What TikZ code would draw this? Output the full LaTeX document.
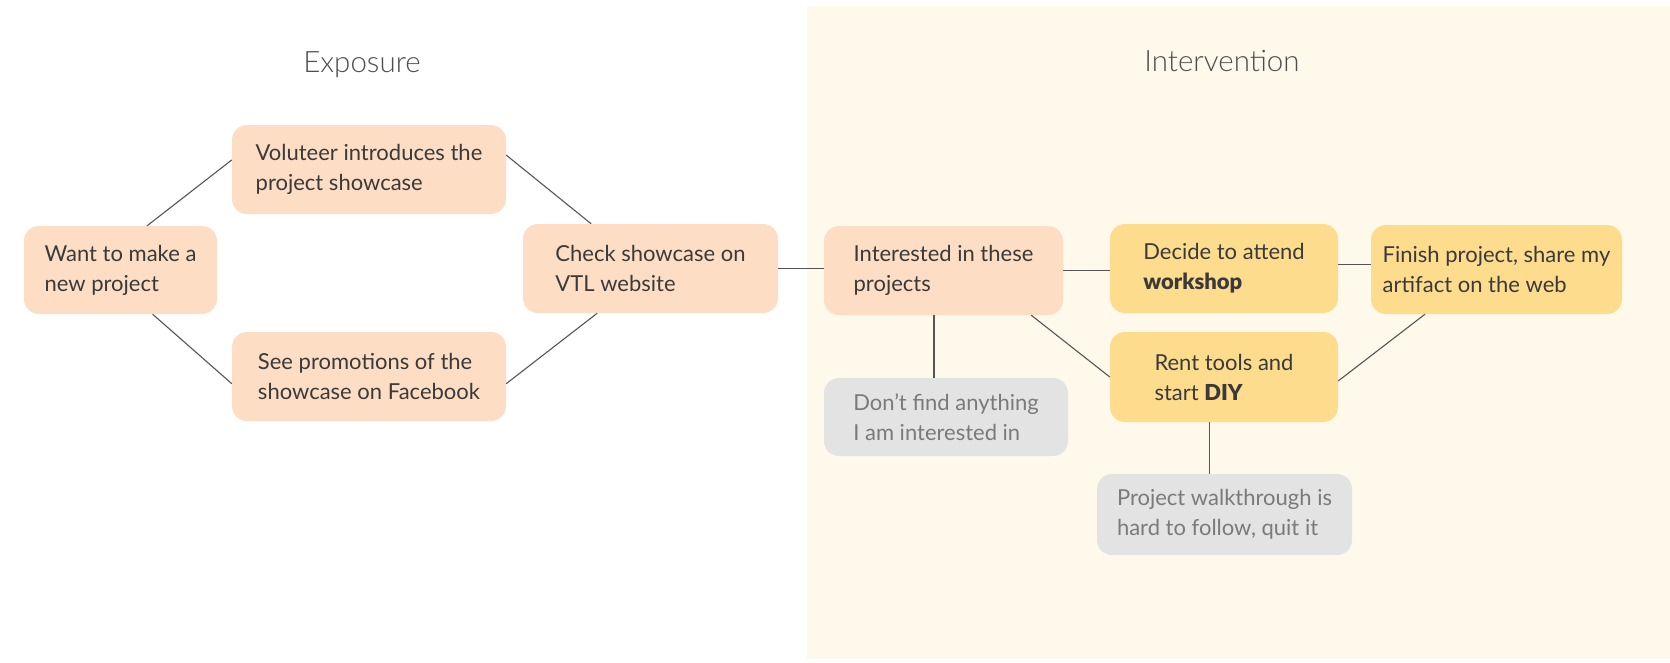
\documentclass[tikz,border=0pt]{standalone}
\usepackage{fontspec}
\setmainfont{Lato}
\newfontfamily\lightfont{Lato Light}
\newfontfamily\heavyfont{Lato Black}
\newcommand{\heavy}[1]{{\heavyfont #1}}
\definecolor{peach}{HTML}{FDDEC4}
\definecolor{yel}{HTML}{FEDC8E}
\definecolor{greybox}{HTML}{E3E3E3}
\definecolor{panelcol}{HTML}{FFF9EC}
\definecolor{ink}{HTML}{3A3A3A}
\definecolor{greyink}{HTML}{7A7A7A}
\definecolor{wirecol}{HTML}{555555}
\begin{document}
\begin{tikzpicture}[x=1pt,y=-1pt,
  card/.style={rounded corners=15pt, inner sep=0pt, align=left,
    font=\fontsize{22}{30}\selectfont, text=ink},
  peachcard/.style={card, fill=peach},
  yelcard/.style={card, fill=yel},
  greycard/.style={card, fill=greybox, text=greyink},
  title/.style={font=\lightfont\fontsize{29.5}{34}\selectfont, text=ink!90, anchor=base},
  wire/.style={draw=wirecol, line width=1.1pt}]
\useasboundingbox[fill=white] (0,0) rectangle (1670,662);
\fill[panelcol] (807,6) rectangle (1670,659);

\node[title] (t1) at (362,72) {Exposure};
\node[title] (t2) at (1222,71) {Intervention};

\node[peachcard, minimum width=193pt, minimum height=88pt] (A) at (120.5,270) {Want to make a\\new project};
\node[peachcard, minimum width=274pt, minimum height=89pt] (B) at (369,169.5) {Voluteer introduces the\\project showcase};
\node[peachcard, minimum width=274pt, minimum height=89pt] (C) at (369,376.5) {See promotions of the\\showcase on Facebook};
\node[peachcard, minimum width=255pt, minimum height=89pt] (D) at (650.5,268.5) {Check showcase on\\VTL website};
\node[peachcard, minimum width=239pt, minimum height=89pt] (E) at (943.5,270.5) {Interested in these\\projects};
\node[greycard, minimum width=244pt, minimum height=78pt] (F) at (946,417) {Don’t find anything\\I am interested in};
\node[yelcard, minimum width=228pt, minimum height=89pt] (G) at (1224,268.5) {Decide to attend\\\heavy{workshop}};
\node[yelcard, minimum width=228pt, minimum height=90pt] (H) at (1224,377) {Rent tools and\\start \heavy{DIY}};
\node[yelcard, minimum width=251pt, minimum height=89pt] (I) at (1496.5,269.5) {Finish project, share my\\artifact on the web};
\node[greycard, minimum width=255pt, minimum height=81pt] (J) at (1224.5,514.5) {Project walkthrough is\\hard to follow, quit it};

\draw[wire] (A.59) -- (B.176);
\draw[wire] (A.-54) -- (C.183);
\draw[wire] (B.6) -- (D.143);
\draw[wire] (C.-3) -- (D.220);
\draw[wire] (D.east) -- (D.east -| E.west);
\draw[wire] (E.east) -- (E.east -| G.west);
\draw[wire] (G.2) -- (G.2 -| I.west);
\draw[wire] (E.258) -- (E.258 |- F.north);
\draw[wire] (E.-27.5) -- (H.west);
\draw[wire] (H.-2) -- (I.212.6);
\draw[wire] (H.252.7) -- (H.252.7 |- J.north);
\end{tikzpicture}
\end{document}
